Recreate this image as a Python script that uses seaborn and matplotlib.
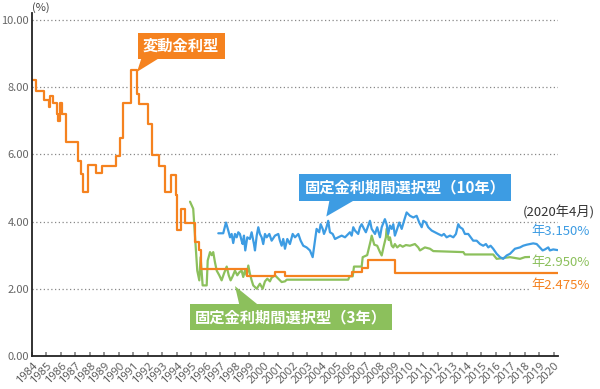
import matplotlib
matplotlib.use("Agg")
import matplotlib.pyplot as plt
from matplotlib.patches import Polygon
import seaborn as sns

# data (year, % rate)
var_years = [1984.00, 1984.26, 1984.80, 1985.15, 1985.25, 1985.45, 1985.70, 1985.82, 1985.92,
             1986.05, 1986.35, 1987.17, 1987.36, 1987.50, 1987.84, 1988.44, 1988.86, 1989.79,
             1990.07, 1990.30, 1990.83, 1991.22, 1991.40, 1991.98, 1992.28, 1992.76, 1993.17,
             1993.57, 1993.90, 1994.00, 1994.30, 1994.57, 1995.24, 1995.55, 1995.68, 1998.81,
             2000.76, 2001.42, 2006.05, 2006.74, 2007.20, 2009.03, 2020.25]
var_rates = [8.20, 7.88, 7.60, 7.40, 7.72, 7.52, 7.19, 6.98, 7.52,
             7.19, 6.37, 5.80, 5.40, 4.87, 5.68, 5.44, 5.66, 5.96,
             6.47, 7.52, 8.51, 7.79, 7.48, 6.91, 5.97, 5.65, 4.88,
             5.38, 4.80, 3.75, 4.37, 3.97, 3.38, 3.14, 2.60, 2.37,
             2.51, 2.37, 2.51, 2.61, 2.87, 2.475, 2.475]

fix3_years = [1994.90, 1995.12, 1995.40, 1995.54, 1995.63, 1995.77, 1996.05, 1996.12, 1996.28,
              1996.39, 1996.50, 1996.62, 1996.74, 1996.92, 1997.08, 1997.24, 1997.43, 1997.57,
              1997.70, 1997.84, 1998.00, 1998.16, 1998.30, 1998.46, 1998.57, 1998.69, 1998.81,
              1998.92, 1999.03, 1999.15, 1999.26, 1999.50, 1999.72, 1999.91, 2000.07, 2000.23,
              2000.41, 2000.53, 2000.76, 2000.99, 2001.22, 2001.45, 2001.57, 2005.81, 2005.90,
              2006.12, 2006.21, 2006.74, 2006.81, 2007.12, 2007.36, 2007.43, 2007.61, 2007.81,
              2008.00, 2008.12, 2008.28, 2008.41, 2008.46, 2008.60, 2008.69, 2008.81, 2008.92,
              2009.03, 2009.19, 2009.38, 2009.57, 2009.79, 2010.07, 2010.41, 2010.64, 2010.76,
              2011.10, 2011.45, 2011.68, 2013.75, 2013.86, 2015.81, 2016.05, 2016.97, 2017.66,
              2018.00, 2018.57, 2020.25]
fix3_rates = [4.59, 4.38, 2.54, 2.25, 2.94, 2.10, 2.10, 2.84, 3.09,
              3.00, 3.09, 2.79, 2.54, 2.40, 2.25, 2.45, 2.66, 2.40,
              2.25, 2.37, 2.54, 2.40, 2.49, 2.54, 2.35, 2.54, 2.40,
              2.69, 2.45, 2.25, 2.10, 2.00, 2.15, 2.00, 2.22, 2.30,
              2.22, 2.33, 2.40, 2.30, 2.20, 2.22, 2.27, 2.27, 2.37,
              2.37, 2.66, 2.66, 2.94, 3.00, 3.43, 3.58, 3.31, 3.28,
              3.09, 2.99, 3.30, 3.53, 3.78, 3.45, 3.53, 3.28, 3.23,
              3.33, 3.23, 3.30, 3.25, 3.30, 3.28, 3.33, 3.23, 3.14,
              3.23, 3.19, 3.12, 3.09, 3.02, 3.02, 2.89, 2.94, 2.89,
              2.94, 2.95, 2.95]

fix10_years = [1996.85, 1997.19, 1997.38, 1997.54, 1997.66, 1997.77, 1997.88, 1998.00, 1998.12,
               1998.23, 1998.34, 1998.46, 1998.53, 1998.62, 1998.71, 1998.85, 1999.03, 1999.15,
               1999.31, 1999.38, 1999.50, 1999.61, 1999.72, 1999.84, 1999.95, 2000.07, 2000.19,
               2000.37, 2000.53, 2000.76, 2000.99, 2001.10, 2001.22, 2001.33, 2001.45, 2001.61,
               2001.79, 2001.98, 2002.14, 2002.37, 2002.53, 2002.71, 2002.94, 2003.17, 2003.36,
               2003.52, 2003.63, 2003.81, 2003.91, 2004.05, 2004.14, 2004.28, 2004.43, 2004.55,
               2004.74, 2004.90, 2005.12, 2005.36, 2005.59, 2005.81, 2005.93, 2006.05, 2006.16,
               2006.28, 2006.50, 2006.62, 2006.74, 2006.90, 2007.03, 2007.19, 2007.31, 2007.43,
               2007.66, 2007.81, 2008.00, 2008.12, 2008.34, 2008.46, 2008.57, 2008.69, 2008.81,
               2008.92, 2009.03, 2009.15, 2009.33, 2009.50, 2009.66, 2009.84, 2010.07, 2010.30,
               2010.53, 2010.71, 2010.88, 2010.99, 2011.17, 2011.33, 2011.57, 2011.79, 2012.02,
               2012.26, 2012.41, 2012.60, 2012.83, 2013.06, 2013.24, 2013.40, 2013.52, 2013.70,
               2013.86, 2014.09, 2014.26, 2014.43, 2014.67, 2014.90, 2015.12, 2015.31, 2015.47,
               2015.63, 2015.81, 2016.05, 2016.28, 2016.50, 2016.74, 2016.97, 2017.31, 2017.66,
               2017.88, 2018.12, 2018.34, 2018.57, 2018.81, 2019.03, 2019.22, 2019.38, 2019.61,
               2019.72, 2019.95, 2020.25]
fix10_rates = [3.65, 3.65, 3.97, 3.73, 3.53, 3.63, 3.36, 3.63, 3.53,
               3.68, 3.63, 3.43, 3.33, 3.58, 3.14, 3.53, 3.48, 3.68,
               3.33, 3.14, 3.58, 3.83, 3.63, 3.53, 3.33, 3.63, 3.53,
               3.63, 3.43, 3.58, 3.63, 3.43, 3.28, 3.48, 3.19, 3.48,
               3.33, 3.63, 3.53, 3.63, 3.43, 3.28, 3.23, 3.14, 2.94,
               3.43, 3.78, 3.68, 3.92, 3.78, 3.63, 3.78, 4.02, 3.68,
               3.63, 3.48, 3.53, 3.58, 3.53, 3.63, 3.68, 3.58, 3.83,
               3.73, 3.63, 3.83, 3.92, 3.78, 3.68, 3.88, 4.02, 3.78,
               3.63, 3.83, 3.53, 3.83, 4.07, 3.92, 3.63, 3.88, 3.78,
               3.92, 3.58, 3.73, 3.97, 3.78, 4.02, 4.27, 4.17, 4.12,
               4.17, 3.97, 3.83, 4.02, 3.97, 3.83, 3.73, 3.68, 3.63,
               3.58, 3.63, 3.53, 3.58, 3.53, 3.63, 3.92, 3.83, 3.78,
               3.63, 3.63, 3.53, 3.43, 3.43, 3.33, 3.28, 3.33, 3.23,
               3.28, 3.19, 3.04, 2.94, 2.89, 2.99, 3.04, 3.19, 3.23,
               3.28, 3.31, 3.33, 3.35, 3.33, 3.23, 3.14, 3.17, 3.23,
               3.14, 3.17, 3.15]

year_ticks = list(range(1984, 2021))
rate_ticks = [0, 2, 4, 6, 8, 10]

orange = '#F5821F'
blue = '#3D9CE3'
green = '#8CC05C'

sns.set_theme(style='white')
plt.rcParams['font.family'] = ['Noto Sans CJK JP', 'DejaVu Sans']

fig = plt.figure(figsize=(6, 3.89), dpi=100)
ax = fig.add_axes([0.0533, 0.0848, 0.8767, 0.8817])

# grid first so lines sit on top
for r in rate_ticks[1:]:
    ax.axhline(r, color='#888888', lw=0.9, ls=(0, (1, 2)), zorder=0)

sns.lineplot(x=fix3_years, y=fix3_rates, color=green, lw=1.6, estimator=None, sort=False, ax=ax)
sns.lineplot(x=fix10_years, y=fix10_rates, color=blue, lw=1.6, estimator=None, sort=False, ax=ax)
sns.lineplot(x=var_years, y=var_rates, color=orange, lw=1.6, estimator=None, sort=False,
             drawstyle='steps-post', ax=ax)

ax.set_xlim(1984, 2020.28)
ax.set_ylim(0, 10.2)
ax.set_xticks(year_ticks)
ax.set_xticklabels([str(y) for y in year_ticks], rotation=45, ha='right', rotation_mode='anchor',
                   fontsize=8, color='#555555', family=['Open Sans', 'DejaVu Sans'])
ax.set_yticks(rate_ticks)
ax.set_yticklabels(['%.2f' % r for r in rate_ticks], fontsize=8, color='#666666')
ax.tick_params(axis='x', direction='in', length=3, color='#888888', pad=3, bottom=True)
ax.tick_params(axis='y', length=0, pad=2)
ax.set_xlabel('')
ax.set_ylabel('')
for s in ['top', 'right']:
    ax.spines[s].set_visible(False)
for s in ['left', 'bottom']:
    ax.spines[s].set_color('#222222')
    ax.spines[s].set_linewidth(1.3)

ax.text(0.0, 1.0, '(%)', transform=ax.transAxes, ha='left', va='bottom', fontsize=8, color='#444444')

# callout boxes with a pointer triangle
def callout(text, pos, color, pointer):
    ax.text(pos[0], pos[1], text, ha='center', va='center', color='white',
            fontsize=11, fontweight='bold', zorder=6,
            bbox=dict(boxstyle='square,pad=0.35', fc=color, ec='none'))
    ax.add_patch(Polygon(pointer, closed=True, fc=color, ec='none', zorder=5, clip_on=False))

callout('変動金利型', (1994.28, 9.22), orange,
        [(1991.66, 9.0), (1993.3, 9.0), (1991.24, 8.45)])
callout('固定金利期間選択型（10年）', (2009.72, 5.01), blue,
        [(2004.55, 4.7), (2006.5, 4.7), (2004.3, 4.15)])
callout('固定金利期間選択型（3年）', (2001.86, 1.16), green,
        [(1998.34, 1.45), (1999.8, 1.45), (1998.0, 2.08)])

# end labels
lab = dict(ha='right', va='center', fontsize=9.5, clip_on=False,
           bbox=dict(boxstyle='square,pad=0.1', fc='white', ec='none'))
ax.text(2022.83, 4.26, '(2020年4月)', color='#333333', **lab)
ax.text(2022.48, 3.69, '年3.150%', color=blue, **lab)
ax.text(2022.48, 2.77, '年2.950%', color=green, **lab)
ax.text(2022.48, 2.11, '年2.475%', color=orange, **lab)

fig.savefig('out.png', dpi=100)
